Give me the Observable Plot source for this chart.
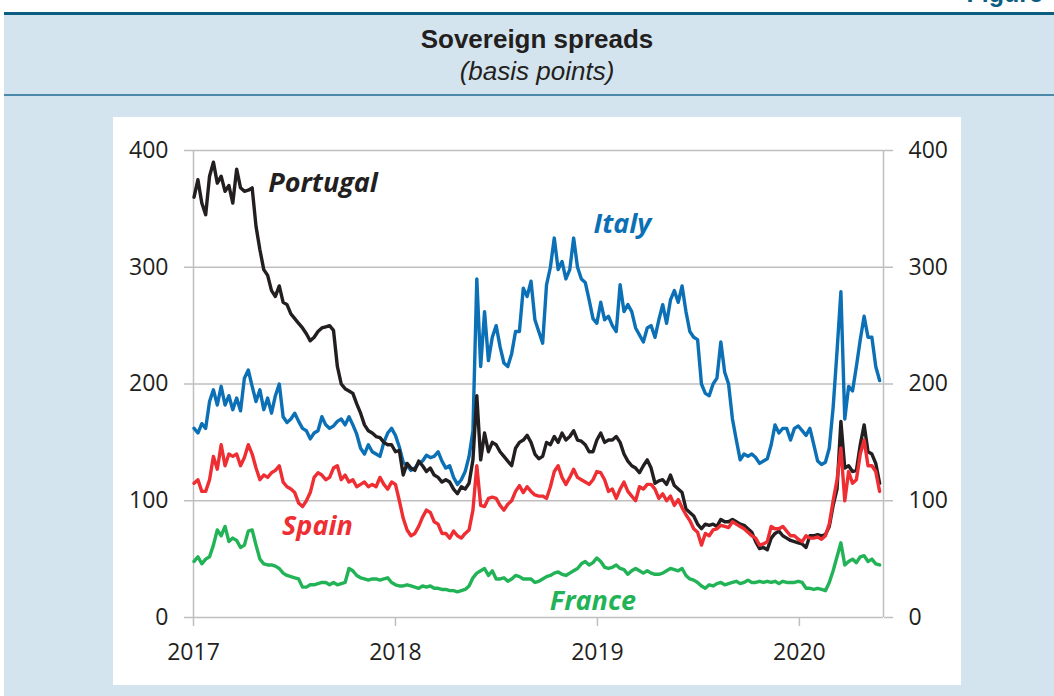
<!DOCTYPE html>
<html><head><meta charset="utf-8">
<script src="https://cdn.jsdelivr.net/npm/d3@7"></script>
<script src="https://cdn.jsdelivr.net/npm/@observablehq/plot@0.6"></script>
<style>
body{margin:0;background:#fff;}
#page{position:relative;width:1054px;height:696px;overflow:hidden;background:#fff;}
#bg{position:absolute;left:4px;top:13px;right:0;bottom:0;background:#d3e4ee;}
#line1{position:absolute;left:4px;right:0;top:12px;height:3px;background:#0b5e80;}
#line2{position:absolute;left:4px;right:0;top:94px;height:2px;background:#4a89a8;}
#fig{position:absolute;right:11px;top:-21px;line-height:30px;font:bold 25px "Liberation Sans",Arial,sans-serif;color:#0b5e80;}
#title{position:absolute;left:0;width:1074px;top:24px;line-height:30px;text-align:center;font-family:"Liberation Sans",Arial,sans-serif;font-weight:bold;font-size:26px;color:#231f20;}
#sub{position:absolute;left:0;width:1074px;top:56px;line-height:30px;text-align:center;font-family:"Liberation Sans",Arial,sans-serif;font-style:italic;font-size:26px;color:#231f20;}
#chart{position:absolute;left:113px;top:117px;}
</style>
</head><body>
<div id="page">
  <div id="bg"></div>
  <div id="line1"></div>
  <div id="line2"></div>
  <div id="fig">Figure</div>
  <div id="title">Sovereign spreads</div>
  <div id="sub">(basis points)</div>
  <div id="chart"></div>
</div>
<script>
// Weekly observations starting 2017-01-02
const firstWeek = "2017-01-02";
const portugal = [
360,375,355,345,378,390,372,378,365,370,
355,384,368,365,366,368,335,315,298,293,
280,275,284,270,268,260,256,252,248,243,
237,240,245,248,249,250,246,215,200,196,
194,192,183,175,165,160,158,155,154,150,
148,148,142,143,122,132,128,126,134,130,
125,128,122,120,116,118,116,110,106,112,
110,115,135,190,135,158,142,150,148,142,
138,134,130,145,150,152,156,150,140,136,
138,150,148,155,150,158,152,155,160,152,
151,148,142,142,152,158,150,152,152,155,
150,140,134,130,128,124,130,135,128,115,
117,118,114,122,113,110,107,93,90,87,
80,76,80,79,80,78,84,82,82,84,
82,80,79,76,73,65,59,60,58,68,
72,74,70,68,66,65,64,63,60,70,
70,71,70,71,78,96,110,168,128,130,
125,126,148,165,142,140,132,115];
const italy = [
162,158,166,162,185,195,182,198,182,190,
178,188,177,205,212,198,185,195,178,188,
175,190,200,172,167,170,175,168,162,160,
153,158,160,172,165,162,164,168,170,165,
172,165,157,145,140,148,142,140,138,150,
158,162,156,146,133,130,126,128,132,134,
139,137,138,142,134,128,130,120,114,118,
125,138,160,290,215,262,220,240,250,232,
218,215,226,245,245,282,275,288,255,245,
235,285,300,325,298,305,290,298,325,300,
290,287,272,256,252,270,255,258,250,245,
285,262,268,262,248,242,236,248,250,240,
255,268,252,272,280,270,284,262,245,240,
238,200,192,190,200,205,236,210,200,170,
152,135,140,138,140,137,132,134,136,148,
165,158,162,162,152,162,164,160,156,162,
148,134,131,133,145,180,228,279,170,198,
194,215,238,258,240,240,215,203];
const spain = [
115,118,108,108,118,138,127,148,130,140,
138,140,130,137,148,140,128,118,122,120,
124,126,130,116,112,110,107,98,95,100,
107,120,124,122,118,120,128,130,118,122,
116,118,112,114,116,112,114,112,120,114,
110,116,114,100,85,75,70,72,78,86,
92,90,82,80,72,72,68,74,70,68,
72,75,92,130,96,95,102,103,102,96,
92,97,100,108,113,107,112,108,105,104,
104,102,112,125,130,120,114,120,127,120,
118,116,114,118,125,124,118,108,110,102,
110,116,108,104,100,112,110,114,114,110,
102,106,100,104,96,101,94,88,83,76,
73,62,72,70,75,76,79,78,77,82,
80,78,76,73,70,68,62,63,65,78,
76,76,78,74,70,70,67,65,70,68,
68,69,67,70,80,100,118,145,100,125,
115,118,140,152,130,130,125,108];
const france = [
48,52,46,50,52,62,75,70,78,65,
68,66,60,62,74,75,62,50,46,45,
45,44,42,38,36,35,34,33,26,26,
28,28,29,30,30,28,30,28,29,30,
42,40,36,34,33,32,33,33,32,33,
34,30,28,27,27,28,27,26,25,27,
26,27,25,25,24,24,23,23,22,23,
24,27,34,38,40,42,36,40,33,33,
34,31,33,36,35,33,33,33,30,31,
33,35,36,38,39,37,36,38,40,42,
46,48,45,47,51,48,43,42,43,45,
42,41,37,40,42,40,38,40,38,37,
37,38,40,42,41,40,42,36,33,32,
30,27,25,28,27,29,30,28,29,30,
31,29,30,32,30,30,31,30,31,30,
31,29,31,30,30,30,31,30,25,25,
24,25,24,23,30,40,52,64,45,48,
50,47,52,53,48,50,46,45];

const countries = ["Portugal", "Italy", "Spain", "France"];
const colors = ["#231f20", "#0b70b5", "#ee2e32", "#22b357"];
const yearLabels = ["2017", "2018", "2019", "2020"];
const yTicks = [0, 100, 200, 300, 400];
const xDomain = ["2017-01-01", "2020-06-01"];
// label anchor points (date, value)
const labelDates = ["2017-05-16", "2018-12-25", "2017-06-10", "2018-10-07"];
const labelValues = [372, 337, 78, 14];

const start = new Date(firstWeek);
const dates = portugal.map((_, i) => d3.utcDay.offset(start, 7 * i));
const seriesValues = [portugal, italy, spain, france];
const table = (k) => seriesValues[k].map((v, i) => ({date: dates[i], value: v}));

const labels = countries.map((c, k) => ({name: c, date: new Date(labelDates[k]), value: labelValues[k], color: colors[k]}));
const yearDates = yearLabels.map(y => new Date(y + "-01-01"));
const dom = xDomain.map(d => new Date(d));

const gridStyle = {stroke: "#bfbfbf", strokeOpacity: 1, strokeWidth: 1.5};
const drawOrder = [1, 0, 2, 3];

const chart = Plot.plot({
  width: 848, height: 568,
  marginLeft: 80, marginRight: 78, marginTop: 33, marginBottom: 68,
  style: {background: "white", fontFamily: "'Open Sans', sans-serif", fontSize: "23px", color: "#231f20"},
  x: {type: "utc", domain: dom},
  y: {domain: [0, 400]},
  marks: [
    Plot.gridY(yTicks, gridStyle),
    Plot.ruleX(dom, gridStyle),
    Plot.axisX(yearDates, {anchor: "bottom", tickSize: 9, tickPadding: 17, ...gridStyle, fill: "#231f20", tickFormat: d => String(d.getUTCFullYear()), label: null}),
    Plot.axisY(yTicks, {anchor: "left", tickSize: 9, tickPadding: 16, ...gridStyle, fill: "#231f20", label: null}),
    Plot.axisY(yTicks, {anchor: "right", tickSize: 9, tickPadding: 16, ...gridStyle, fill: "#231f20", label: null}),
    ...drawOrder.map(k => Plot.lineY(table(k), {x: "date", y: "value", stroke: colors[k], strokeWidth: 3.4, strokeLinejoin: "round"})),
    Plot.text(labels, {x: "date", y: "value", text: "name", fill: "color", textAnchor: "start", fontSize: 27, fontWeight: "bold", fontStyle: "italic", fontFamily: "'Open Sans', sans-serif"})
  ]
});
document.getElementById("chart").appendChild(chart);
</script>
</body></html>
